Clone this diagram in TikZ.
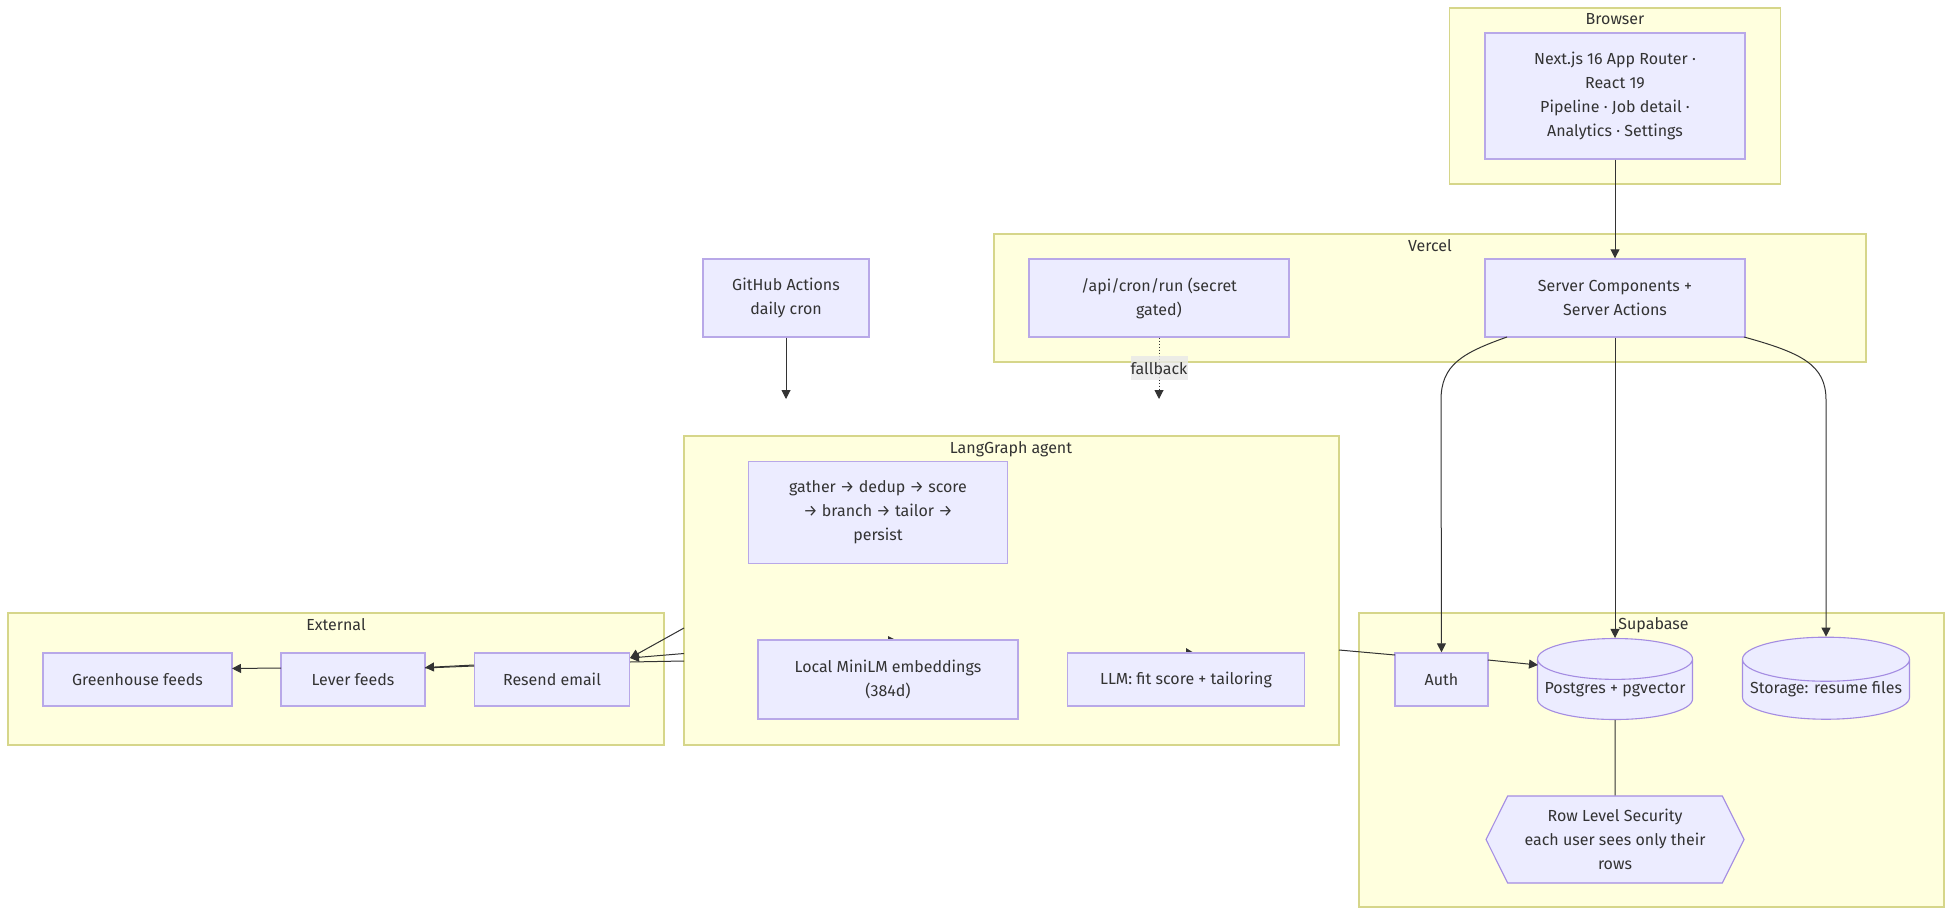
\documentclass[tikz,border=0pt]{standalone}
\usepackage{fontspec}
\setmainfont{Fira Sans}
\usepackage{tikz}
\usetikzlibrary{arrows.meta, positioning, shapes.geometric, shapes.symbols}

\definecolor{clusterfill}{HTML}{FFFFDE}
\definecolor{clusterline}{HTML}{D6D68A}
\definecolor{boxfill}{HTML}{ECECFF}
\definecolor{boxline}{HTML}{B8A8E8}
\definecolor{shapeline}{HTML}{A48CE2}
\definecolor{inkgrey}{HTML}{333333}
\definecolor{tagfill}{HTML}{E8E8E8}

\tikzset{
    cluster/.style={draw=clusterline, fill=clusterfill, line width=1.6pt, inner sep=0pt},
    clustertitle/.style={text=inkgrey, inner sep=0pt},
    box/.style={draw=boxline, fill=boxfill, line width=1.4pt, text=inkgrey, align=center, inner sep=0pt},
    dbbox/.style={cylinder, shape border rotate=90, aspect=0.29, draw=shapeline, fill=boxfill, line width=1.1pt, text=inkgrey, align=center, inner sep=0pt},
    hexbox/.style={signal, signal to=east and west, signal pointer angle=127, draw=shapeline, fill=boxfill, line width=1.1pt, text=inkgrey, align=center, inner sep=0pt},
    edge/.style={draw=inkgrey, line width=1pt, -{Triangle[length=9pt,width=9pt]}},
    plainedge/.style={draw=inkgrey, line width=1pt},
    fallbackedge/.style={edge, dotted},
    tag/.style={fill=tagfill, fill opacity=0.8, text opacity=1, text=inkgrey, inner sep=0pt, minimum width=57, minimum height=24}
}

\begin{document}
\begin{tikzpicture}[x=1pt, y=-1pt, font=\fontsize{16}{24}\selectfont]
        %\draw [step=100] (0,0) grid (1953,915);
        \useasboundingbox (0,0) rectangle (1953,915);

        % subgraphs
        \node[cluster, minimum width=331, minimum height=176] (browser) at (1615,96) {};
        \node[cluster, minimum width=872, minimum height=128] (vercel) at (1430,298) {};
        \node[cluster, minimum width=655, minimum height=309] (langgraph) at (1011.5,590.5) {};
        \node[cluster, minimum width=656, minimum height=132] (external) at (336,679) {};
        \node[cluster, minimum width=585, minimum height=294] (supabase) at (1651.5,760) {};

        \node[clustertitle] (browsertitle) at (1615,19) {Browser};
        \node[clustertitle] (verceltitle) at (1430,246) {Vercel};
        \node[clustertitle] (langgraphtitle) at (1011,449) {LangGraph agent};
        \node[clustertitle] (externaltitle) at (336,625) {External};
        \node[clustertitle] (supabasetitle) at (1653.5,625) {Supabase};

        % arrow tips that stick out behind the boxes
        \fill[inkgrey] (888,636) -- (896,640) -- (888,640) -- cycle;
        \fill[inkgrey] (1186,648) -- (1194,653) -- (1186,653) -- cycle;

        % boxes
        \node[box, minimum width=260, minimum height=126] (next) at (1615,96) {Next.js 16 App Router ·\\React 19\\Pipeline · Job detail ·\\Analytics · Settings};
        \node[box, minimum width=260, minimum height=78] (server) at (1615,298) {Server Components +\\Server Actions};
        \node[box, minimum width=260, minimum height=78] (apirun) at (1159,298) {/api/cron/run (secret\\gated)};
        \node[box, minimum width=166, minimum height=78] (github) at (786,298) {GitHub Actions\\daily cron};
        \node[box, minimum width=259, minimum height=102] (gather) at (878,512.5) {gather → dedup → score\\→ branch → tailor →\\persist};
        \node[box, minimum width=260, minimum height=79] (local) at (888,679.5) {Local MiniLM embeddings\\(384d)};
        \node[box, minimum width=237, minimum height=53] (llm) at (1186,679.5) {LLM: fit score + tailoring};
        \node[box, minimum width=189, minimum height=53] (greenhouse) at (137.5,679.5) {Greenhouse feeds};
        \node[box, minimum width=144, minimum height=53] (lever) at (353,679.5) {Lever feeds};
        \node[box, minimum width=155, minimum height=53] (resend) at (552,679.5) {Resend email};
        \node[box, minimum width=93, minimum height=53] (auth) at (1441.5,679.5) {Auth};
        \node[dbbox, minimum width=155, minimum height=81] (postgres) at (1615,689.5) {\raisebox{-2.5pt}{Postgres + pgvector}};
        \node[dbbox, minimum width=167, minimum height=81] (storage) at (1826,689.5) {\raisebox{-2.5pt}{Storage: resume files}};
        \node[hexbox, minimum width=258, minimum height=87] (rls) at (1615,839.5) {Row Level Security\\each user sees only their\\rows};

        % free ends
        \coordinate (githubend) at (786,399);
        \coordinate (fallbackend) at (1159,399);
        \coordinate (leftauth) at (1507,337);
        \coordinate (rightstorage) at (1744,337);
        \coordinate (graphauth) at (1339,650);
        \coordinate (authin) at (1395,655);
        \coordinate (authout) at (1488,660);
        \coordinate (pgin) at (1538,665);
        \coordinate (graphmaila) at (684,628);
        \coordinate (graphmailb) at (684,653.5);
        \coordinate (graphmailc) at (684,661);
        \coordinate (mailin) at (630,658);
        \coordinate (mailinb) at (630,662);
        \coordinate (mailout) at (474,665);
        \coordinate (mailoutb) at (474,666);
        \coordinate (leverin) at (425,667.5);
        \coordinate (leverinb) at (425,668);
        \coordinate (leverout) at (281,668);
        \coordinate (greenin) at (232,668.5);

        % connectors
        \draw[edge] (next) -- (server);
        \draw[edge] (github) -- (githubend);
        \draw[fallbackedge] (apirun) -- node[tag] (fallbacktag) {fallback} (fallbackend);
        \draw[edge] (leftauth) .. controls (1462,353) and (1441,365) .. (1441,400) -- (auth);
        \draw[edge] (server) -- (postgres.north);
        \draw[edge] (rightstorage) .. controls (1802,353) and (1826,365) .. (1826,400) -- (storage.north);
        \draw[plainedge] (graphauth) -- (authin);
        \draw[edge] (authout) -- (pgin);
        \draw[plainedge] (postgres.south) -- (rls);
        \draw[edge] (graphmaila) -- (mailin);
        \draw[edge] (graphmailb) -- (mailin);
        \draw[plainedge] (graphmailc) -- (mailinb);
        \draw[edge] (mailout) -- (leverin);
        \draw[plainedge] (mailoutb) -- (leverinb);
        \draw[edge] (leverout) -- (greenin);
\end{tikzpicture}
\end{document}
